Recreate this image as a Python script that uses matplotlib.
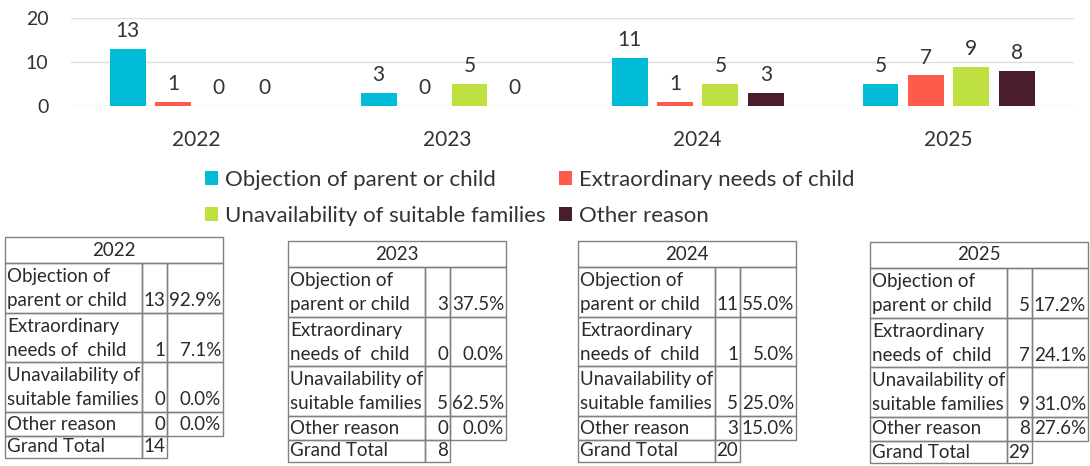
import numpy as np
import matplotlib.pyplot as plt
from matplotlib.patches import Rectangle

# data
years = ['2022', '2023', '2024', '2025']
reasons = ['Objection of parent or child', 'Extraordinary needs of child',
           'Unavailability of suitable families', 'Other reason']
table_labels = ['Objection of\nparent or child', 'Extraordinary\nneeds of  child',
                'Unavailability of\nsuitable families', 'Other reason']
objection = [13, 3, 11, 5]
extraordinary = [1, 0, 1, 7]
unavailability = [0, 5, 5, 9]
other = [0, 0, 3, 8]
colors = ['#00BCD6', '#FF5A4B', '#BFE041', '#4A1D2D']

plt.rcParams['font.family'] = ['Lato', 'DejaVu Sans']

W, H = 1090, 466
fig = plt.figure(figsize=(W / 100, H / 100), dpi=100)

# bar chart
ax = fig.add_axes([70.5 / W, 1 - 106 / H, (1074 - 70.5) / W, 87.7 / H])
series = [objection, extraordinary, unavailability, other]
x = np.arange(len(years))
step, bw = 0.181, 0.143
handles = []
for i, (vals, c, lab) in enumerate(zip(series, colors, reasons)):
    bars = ax.bar(x + (i - 1.5) * step, vals, bw, color=c, label=lab)
    ax.bar_label(bars, padding=5.5, fontsize=15, color='#333333')
    handles.append(bars)
ax.set_xlim(-0.5, 3.5)
ax.set_ylim(0, 20)
ax.set_yticks([0, 10, 20])
ax.set_xticks(x, years)
ax.yaxis.grid(True, color='#dddddd', lw=1)
ax.set_axisbelow(True)
for s in ax.spines.values():
    s.set_visible(False)
ax.tick_params(length=0)
ax.tick_params(axis='y', pad=16, labelsize=14, labelcolor='#333333')
ax.tick_params(axis='x', pad=17, labelsize=15, labelcolor='#333333')

order = [0, 2, 1, 3]
fig.legend([handles[k] for k in order], [reasons[k] for k in order],
           ncol=2, loc='upper left', bbox_to_anchor=(205 / W, 1 - 170 / H),
           frameon=False, fontsize=16, handlelength=0.6, handleheight=0.6,
           handletextpad=0.3, columnspacing=0.6, labelspacing=0.7,
           borderpad=0, borderaxespad=0, labelcolor='#333333')

# tables below
tab = fig.add_axes([0, 0, 1, 1])
tab.set_xlim(0, W)
tab.set_ylim(H, 0)
tab.axis('off')
col_w = [137, 25, 56]
row_h = [26, 50, 49, 50, 24, 22]
lefts = [5, 288, 578, 870]
tops = [237, 241, 241, 242]
lc = '#808080'
tc = '#2a2a2a'
fs = 13.5

def cell(x0, y0, w, h):
    tab.add_patch(Rectangle((x0, y0), w, h, fill=False, edgecolor=lc, lw=1))

for j, yr in enumerate(years):
    counts = [s[j] for s in series]
    total = sum(counts)
    x0, y = lefts[j], tops[j]
    tw = sum(col_w)
    cell(x0, y, tw, row_h[0])
    tab.text(x0 + tw / 2, y + row_h[0] / 2, yr, ha='center', va='center', fontsize=fs, color=tc)
    y += row_h[0]
    for r, lab in enumerate(table_labels):
        h = row_h[r + 1]
        xs = x0
        for w in col_w:
            cell(xs, y, w, h)
            xs += w
        lines = lab.split('\n')
        if len(lines) == 2:
            ys = [y + 13.5, y + 37.5]
        else:
            ys = [y + h / 2]
        for ln, yy in zip(lines, ys):
            tab.text(x0 + 2, yy, ln, ha='left', va='center', fontsize=fs, color=tc)
        tab.text(x0 + col_w[0] + col_w[1] - 2, ys[-1], str(counts[r]),
                 ha='right', va='center', fontsize=fs, color=tc)
        tab.text(x0 + tw - 2, ys[-1], f'{counts[r] / total * 100:.1f}%',
                 ha='right', va='center', fontsize=fs, color=tc)
        y += h
    h = row_h[-1]
    cell(x0, y, col_w[0], h)
    cell(x0 + col_w[0], y, col_w[1], h)
    tab.text(x0 + 2, y + h / 2, 'Grand Total', ha='left', va='center', fontsize=fs, color=tc)
    tab.text(x0 + col_w[0] + col_w[1] - 2, y + h / 2, str(total),
             ha='right', va='center', fontsize=fs, color=tc)

fig.savefig('out.png', dpi=100)
